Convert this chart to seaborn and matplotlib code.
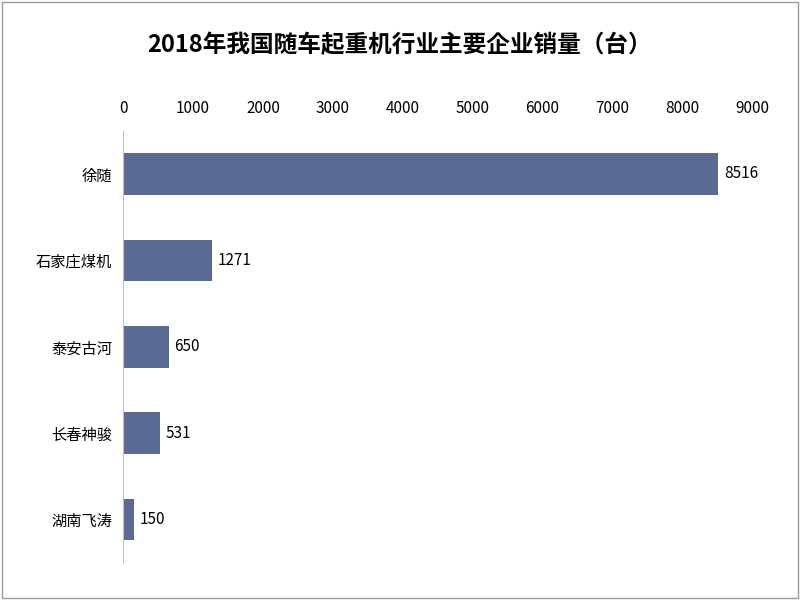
import matplotlib
matplotlib.use("Agg")
import matplotlib.pyplot as plt
from matplotlib import font_manager as fm
import seaborn as sns
import pandas as pd

companies = ["徐随", "石家庄煤机", "泰安古河", "长春神骏", "湖南飞涛"]
sales = [8516, 1271, 650, 531, 150]
xticks = [0, 1000, 2000, 3000, 4000, 5000, 6000, 7000, 8000, 9000]

cjk = None
for f in fm.findSystemFonts():
    if "CJK" in f and ("Regular" in f or "SC" in f):
        cjk = f
        break
if cjk is None:
    for f in fm.findSystemFonts():
        if "CJK" in f:
            cjk = f
            break
fam = "DejaVu Sans"
if cjk:
    fm.fontManager.addfont(cjk)
    fam = fm.FontProperties(fname=cjk).get_name()
plt.rcParams["font.family"] = [fam, "DejaVu Sans"]
plt.rcParams["font.sans-serif"] = [fam, "DejaVu Sans"]

df = pd.DataFrame({"company": companies, "sales": sales})

fig = plt.figure(figsize=(8, 6), dpi=100)
ax = fig.add_axes([0.154, 0.062, 0.786, 0.72])
sns.barplot(data=df, x="sales", y="company", color="#5B6A92", width=0.48, ax=ax, saturation=1)
ax.set_xlim(0, 9000)
ax.set_xticks(xticks)
ax.xaxis.tick_top()
ax.tick_params(axis="both", length=0, labelsize=11)
ax.tick_params(axis="x", pad=10)
ax.tick_params(axis="y", pad=8)
for lab in ax.get_yticklabels() + ax.get_xticklabels():
    lab.set_fontfamily(fam)
ax.set_xlabel("")
ax.set_ylabel("")
for s in ["top", "right", "bottom"]:
    ax.spines[s].set_visible(False)
ax.spines["left"].set_color("#BFBFBF")
for i, v in enumerate(sales):
    ax.text(v + 80, i, str(v), va="center", ha="left", fontsize=11, family=fam)
fig.text(0.5, 0.925, "2018年我国随车起重机行业主要企业销量（台）", ha="center", va="center",
         fontsize=17, fontweight="bold", family=fam)
fig.patches.append(plt.Rectangle((0.003, 0.003), 0.994, 0.994, transform=fig.transFigure,
                                 fill=False, edgecolor="#9A9A9A", linewidth=1))
fig.savefig("out.png", dpi=100)
